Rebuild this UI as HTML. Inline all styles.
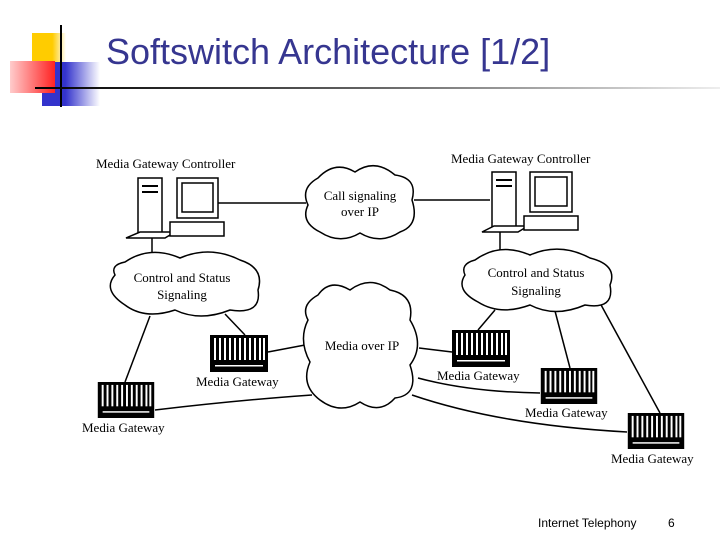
<!DOCTYPE html>
<html><head><style>
body{margin:0;width:720px;height:540px;background:#fff;overflow:hidden;position:relative;font-family:"Liberation Sans",sans-serif}
.a{position:absolute}
</style></head><body>
<div class="a" style="left:32px;top:33px;width:34px;height:30px;background:linear-gradient(90deg,#fc0 60%,#fff0)"></div>
<div class="a" style="left:42px;top:62px;width:58px;height:44px;background:linear-gradient(90deg,#33c 40%,#fff0)"></div>
<div class="a" style="left:10px;top:61px;width:45px;height:32px;background:linear-gradient(90deg,#fcc,#f22)"></div>
<div class="a" style="left:60px;top:25px;width:2px;height:82px;background:#000"></div>
<div class="a" style="left:35px;top:87px;width:685px;height:2px;background:linear-gradient(90deg,#000,#666 50%,#eee)"></div>
<div class="a" style="left:106px;top:31px;font-size:36px;color:#363690">Softswitch Architecture [1/2]</div>
<svg class="a" style="left:0;top:0" width="720" height="540" font-family="Liberation Serif,serif" font-size="13">
<defs>
<symbol id="g" viewBox="0 0 58 37">
<rect width="58" height="37" fill="#000"/>
<g fill="#fff"><rect x="4" y="3" width="2" height="22"/><rect x="9" y="3" width="2" height="22"/><rect x="14" y="3" width="2" height="22"/><rect x="19" y="3" width="2" height="22"/><rect x="24" y="3" width="2" height="22"/><rect x="29" y="3" width="2" height="22"/><rect x="34" y="3" width="2" height="22"/><rect x="39" y="3" width="2" height="22"/><rect x="44" y="3" width="2" height="22"/><rect x="49" y="3" width="2" height="22"/><rect x="53" y="3" width="2" height="22"/>
<rect x="5" y="30" width="48" height="1.5"/></g>
</symbol>
</defs>
<g stroke="#000" stroke-width="1.5" fill="none">
<line x1="218" y1="203" x2="306" y2="203"/><line x1="414" y1="200" x2="490" y2="200"/>
<line x1="152" y1="238" x2="152" y2="256"/><line x1="500" y1="232" x2="500" y2="256"/>
<line x1="150" y1="316" x2="125" y2="382"/><line x1="225" y1="314" x2="245" y2="335"/>
<line x1="268" y1="352" x2="305" y2="345"/><path d="M155 410 Q240 400 312 395"/>
<line x1="419" y1="348" x2="452" y2="352"/><line x1="495" y1="310" x2="478" y2="330"/>
<line x1="555" y1="311" x2="570" y2="368"/><line x1="600" y1="303" x2="660" y2="413"/>
<path d="M418 378 Q470 392 540 393"/><path d="M412 395 Q500 425 627 432"/>
</g>
<g fill="#fff" stroke="#000" stroke-width="1.5">
<path d="M318 178 Q335 160 355 172 Q375 158 395 175 Q418 178 412 200 Q420 225 400 232 Q380 245 360 233 Q340 245 320 232 Q300 222 308 205 Q300 188 318 178Z"/>
<path d="M125 262 Q150 245 180 258 Q210 245 240 260 Q265 268 258 290 Q262 315 230 310 Q200 322 175 310 Q145 320 125 305 Q102 290 115 275 Q110 265 125 262Z"/>
<path d="M475 260 Q500 242 530 255 Q560 242 590 258 Q618 265 610 285 Q615 310 585 305 Q555 318 530 305 Q500 316 478 302 Q455 290 465 275 Q460 264 475 260Z"/>
<path d="M318 295 Q330 278 350 290 Q370 275 390 290 Q415 295 410 320 Q425 345 410 365 Q420 395 395 398 Q380 415 360 402 Q340 415 320 400 Q300 385 310 362 Q298 340 308 320 Q300 305 318 295Z"/>
</g>
<g fill="#000" text-anchor="middle">
<text x="360" y="200">Call signaling</text><text x="360" y="216">over IP</text>
<text x="182" y="282">Control and Status</text><text x="182" y="299">Signaling</text>
<text x="536" y="277">Control and Status</text><text x="536" y="295">Signaling</text>
<text x="362" y="350">Media over IP</text>
</g>
<g fill="#000">
<text x="96" y="168">Media Gateway Controller</text><text x="451" y="163">Media Gateway Controller</text>
<text x="196" y="386">Media Gateway</text><text x="82" y="432">Media Gateway</text>
<text x="437" y="380">Media Gateway</text><text x="525" y="417">Media Gateway</text><text x="611" y="463">Media Gateway</text>
</g>
<g fill="#fff" stroke="#000" stroke-width="1.5">
<rect x="138" y="178" width="24" height="56"/><path d="M126 238 L140 232 L175 232 L165 238Z"/>
<rect x="177" y="178" width="41" height="40"/><rect x="182" y="183" width="31" height="29"/><rect x="170" y="222" width="54" height="14"/>
<rect x="492" y="172" width="24" height="56"/><path d="M482 232 L494 226 L528 226 L518 232Z"/>
<rect x="530" y="172" width="42" height="40"/><rect x="535" y="177" width="32" height="29"/><rect x="524" y="216" width="54" height="14"/>
</g>
<g stroke="#000" stroke-width="2"><line x1="142" y1="186" x2="158" y2="186"/><line x1="142" y1="192" x2="158" y2="192"/><line x1="496" y1="180" x2="512" y2="180"/><line x1="496" y1="186" x2="512" y2="186"/></g>
<use href="#g" x="210" y="335" width="58" height="37"/>
<use href="#g" x="97" y="382" width="58" height="36"/>
<use href="#g" x="452" y="330" width="58" height="37"/>
<use href="#g" x="540" y="368" width="58" height="36"/>
<use href="#g" x="627" y="413" width="58" height="36"/>
</svg>
<div class="a" style="left:538px;top:516px;font-size:12px">Internet Telephony</div>
<div class="a" style="left:668px;top:516px;font-size:12px">6</div>
</body></html>
